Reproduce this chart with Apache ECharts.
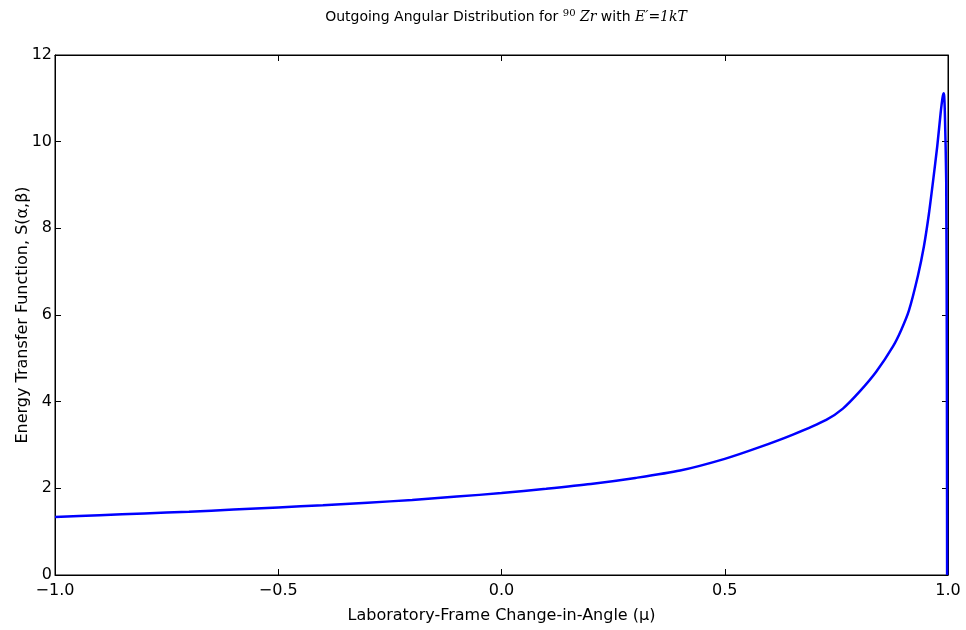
<!DOCTYPE html>
<html>
<head>
<meta charset="utf-8">
<title>Outgoing Angular Distribution</title>
<script src="https://cdn.jsdelivr.net/npm/echarts@6/dist/echarts.min.js"></script>
<style>
    html, body { margin: 0; padding: 0; background: #fff; }
    .chart { width: 966px; height: 630px; }
</style>
</head>
<body>
<div class="chart"></div>
<script>
// 1. data
let muValues = [-1.0, -0.9, -0.8, -0.7, -0.6, -0.5, -0.4, -0.3, -0.2, -0.1,
    0.0, 0.1, 0.2, 0.3, 0.4, 0.5, 0.578, 0.6527, 0.7273, 0.7646, 0.8019, 0.8392, 0.8765, 0.895,
    0.9124, 0.9325, 0.946, 0.9572, 0.9662, 0.976, 0.9834, 0.9875, 0.990, 0.9915, 0.993, 0.996, 0.9975, 0.998]
let sValues = [1.34, 1.38, 1.42, 1.46, 1.51, 1.56, 1.61, 1.67, 1.73, 1.81,
    1.89, 1.99, 2.10, 2.24, 2.41, 2.68, 2.95, 3.24, 3.58, 3.84, 4.23, 4.69, 5.27, 5.65,
    6.10, 6.90, 7.58, 8.33, 9.06, 9.90, 10.65, 11.0, 11.12, 11.05, 10.65, 9.1, 4.5, 0]
let xTicks = [-1.0, -0.5, 0.0, 0.5, 1.0]
let yTicks = [0, 2, 4, 6, 8, 10, 12]

// 2. chart
let myChart = echarts.init(document.querySelector('.chart'), null, { renderer: 'canvas' })
let font = 'DejaVu Sans'
let mathFont = 'DejaVu Serif'

function fmtTick(v) {
    return v.toFixed(1).replace('-', '\u2212')
}

let hiddenAxisLabel = { show: false }
let tickStyle = { show: true, inside: true, length: 6, lineStyle: { color: '#000', width: 1 } }
let lineStyle = { show: true, onZero: false, lineStyle: { color: '#000' } }

let option = {
    backgroundColor: '#fff',
    animation: false,
    title: {
        left: 501,
        textAlign: 'center',
        top: 3,
        text: '{t|Outgoing Angular Distribution for }{sup|90}{m| Zr}{t| with }{m|E\u2032=1kT}',
        textStyle: {
            fontWeight: 'normal',
            rich: {
                t: { fontFamily: font, fontSize: 14, fontWeight: 'normal', color: '#000' },
                sup: { fontFamily: mathFont, fontSize: 10, fontWeight: 'normal', color: '#000', verticalAlign: 'top', padding: [0, 0, 8, 0] },
                m: { fontFamily: mathFont, fontStyle: 'italic', fontWeight: 'normal', fontSize: 14, color: '#000' }
            }
        }
    },
    grid: {
        left: 55, right: 18, top: 55, bottom: 55,
        outerBoundsMode: 'none',
        show: true, borderColor: '#000', borderWidth: 1, backgroundColor: 'transparent'
    },
    xAxis: [
        {
            type: 'value', min: -1, max: 1, interval: 0.5, position: 'bottom',
            name: 'Laboratory-Frame Change-in-Angle (\u03bc)',
            nameLocation: 'middle', nameGap: 33, nameMoveOverlap: false,
            nameTextStyle: { fontFamily: font, fontSize: 16, color: '#000' },
            axisLine: lineStyle,
            axisTick: tickStyle,
            axisLabel: { fontFamily: font, fontSize: 16, color: '#000', margin: 8, formatter: fmtTick, showMinLabel: true, showMaxLabel: true },
            splitLine: { show: false }
        },
        {
            type: 'value', min: -1, max: 1, interval: 0.5, position: 'top',
            axisLine: lineStyle,
            axisTick: tickStyle, axisLabel: hiddenAxisLabel, splitLine: { show: false }
        }
    ],
    yAxis: [
        {
            type: 'value', min: 0, max: 12, interval: 2, position: 'left',
            name: 'Energy Transfer Function, S(\u03b1,\u03b2)',
            nameLocation: 'middle', nameGap: 24, nameRotate: 90, nameMoveOverlap: false,
            nameTextStyle: { fontFamily: font, fontSize: 16, color: '#000' },
            axisLine: lineStyle,
            axisTick: tickStyle,
            axisLabel: { fontFamily: font, fontSize: 16, color: '#000', margin: 3 },
            splitLine: { show: false }
        },
        {
            type: 'value', min: 0, max: 12, interval: 2, position: 'right',
            axisLine: lineStyle,
            axisTick: tickStyle, axisLabel: hiddenAxisLabel, splitLine: { show: false }
        }
    ],
    series: [
        {
            type: 'line',
            xAxisIndex: 0, yAxisIndex: 0,
            data: muValues.map(function (m, i) { return [m, sValues[i]] }),
            showSymbol: false,
            smooth: 0.25,
            lineStyle: { color: '#0000ff', width: 2.5 },
            clip: true
        }
    ]
}
myChart.setOption(option)
</script>
</body>
</html>
